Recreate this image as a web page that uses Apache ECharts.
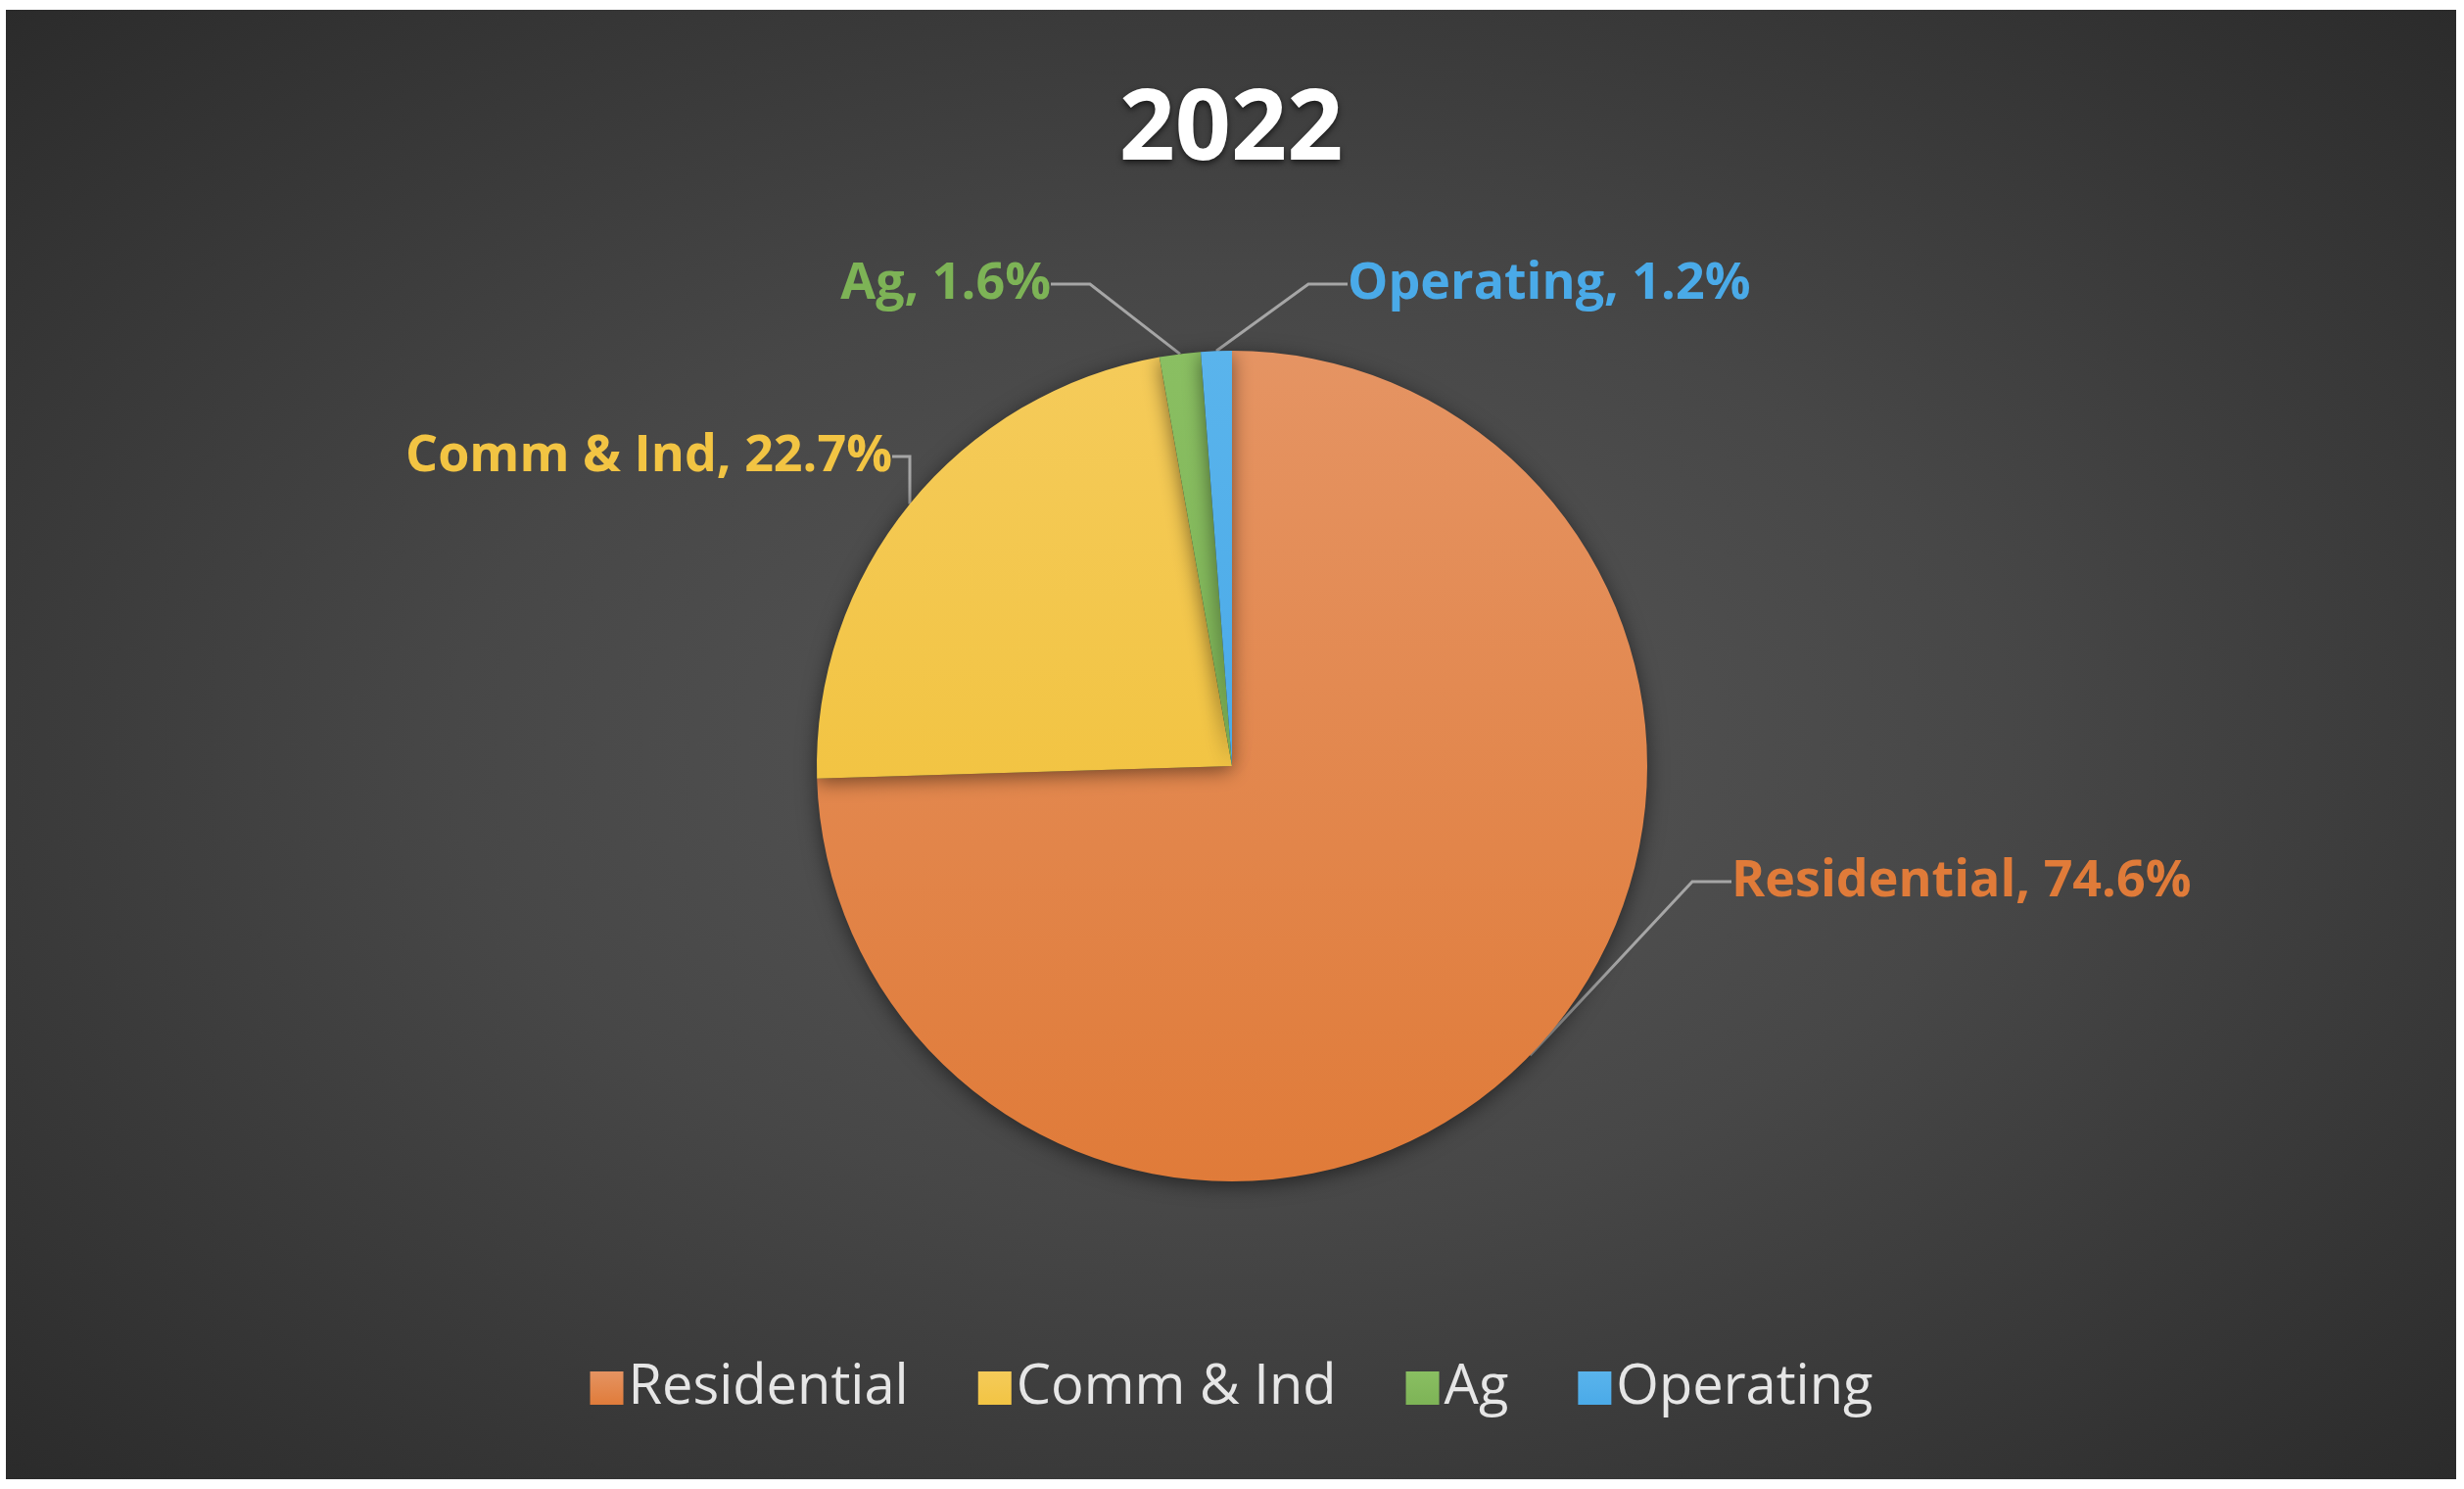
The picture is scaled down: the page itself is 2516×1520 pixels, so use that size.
<!DOCTYPE html>
<html>
<head>
<meta charset="utf-8">
<script src="https://cdn.jsdelivr.net/npm/echarts@6/dist/echarts.min.js"></script>
<style>
html,body{margin:0;padding:0;background:#fff;}
#chart{position:absolute;left:6px;top:10px;width:2502px;height:1500px;
  background:radial-gradient(ellipse at 50% 50%, #575757 0%, #474747 45%, #2b2b2b 100%);}
</style>
</head>
<body>
<div id="chart"></div>
<script>
var title = '2022';
var categories = ['Residential', 'Comm & Ind', 'Ag', 'Operating'];
var shares = [74.6, 22.7, 1.6, 1.2];
var colors = ['#E07B39', '#F2C443', '#7DB356', '#4AAAE8'];
var colorsTop = ['#E59463', '#F5CB5A', '#8ABF62', '#5AB4EC'];
// label anchor spots (x, y, align)
var labelSpots = [[1762, 890, 'left'], [905, 456, 'right'], [1067, 280, 'right'], [1370, 280, 'left']];

var chart = echarts.init(document.getElementById('chart'));
chart.setOption({
    title: {
        text: title, left: 'center', top: 70,
        textStyle: {color: '#fff', fontSize: 100, fontWeight: 'bold', fontFamily: 'Open Sans',
            textShadowColor: 'rgba(0,0,0,0.6)', textShadowBlur: 6, textShadowOffsetY: 3}
    },
    legend: {
        bottom: 60, left: 'center', itemWidth: 34, itemHeight: 34, itemGap: 70, icon: 'rect',
        textStyle: {color: '#E6E6E6', fontSize: 56, fontFamily: 'Open Sans'},
        data: categories
    },
    series: [{
        type: 'pie',
        center: [1252, 772],
        radius: [0, 424],
        startAngle: 90,
        clockwise: true,
        data: categories.map(function (c, i) {
            return {
                name: c, value: shares[i],
                itemStyle: {color: new echarts.graphic.LinearGradient(0, 0, 0, 1,
                    [{offset: 0, color: colorsTop[i]}, {offset: 1, color: colors[i]}])},
                label: {color: colors[i]}
            };
        }),
        itemStyle: {borderColor: 'rgba(0,0,0,0)', shadowColor: 'rgba(0,0,0,0.5)', shadowBlur: 20, shadowOffsetY: 4},
        label: {
            formatter: function (p) { return p.name + ', ' + p.value.toFixed(1) + '%'; },
            fontSize: 52, fontWeight: 'bold', fontFamily: 'Open Sans'
        },
        labelLine: {lineStyle: {color: '#A6A6A6', width: 3}, length: 40, length2: 40},
        labelLayout: function (p) {
            var s = labelSpots[p.dataIndex];
            return {x: s[0], y: s[1], align: s[2], verticalAlign: 'middle'};
        }
    }]
});
</script>
</body>
</html>
